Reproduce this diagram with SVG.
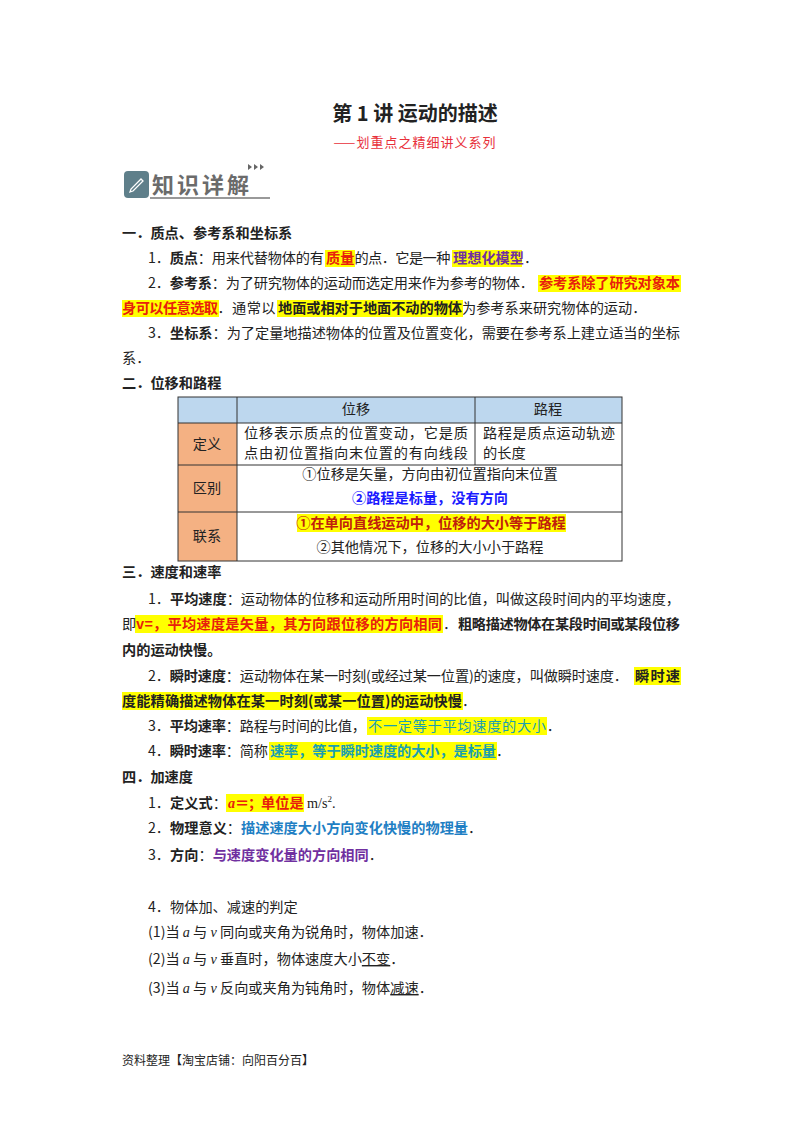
<svg xmlns="http://www.w3.org/2000/svg" width="800" height="1132" viewBox="0 0 800 1132">
<style>
text{font-family:"Noto Sans CJK SC","Liberation Serif",sans-serif;font-size:14.2px;fill:#222}
.b{font-weight:bold}
.r{fill:#e8200c;font-weight:bold}
.p{fill:#7030a0;font-weight:bold}
.bl{fill:#1a1aff;font-weight:bold}
.t{fill:#1aa0b0}
.u{fill:#1f7fc4;font-weight:bold}
.hl{fill:#ffff00}
.c{text-anchor:middle}
.cell{stroke:#333;stroke-width:1}
.i{font-style:italic;font-family:"Liberation Serif",serif}
</style>
<rect width="800" height="1132" fill="#fff"/>
<g id="header">
<text x="415" y="121" class="c b" style="font-size:20px">第 1 讲  运动的描述</text>
<text x="415" y="147" class="c" style="font-size:13px;fill:#e8303a;letter-spacing:1px">——划重点之精细讲义系列</text>
<rect x="124" y="171" width="25" height="27" rx="4" fill="#5f7f8a"/>
<path d="M130 192 l3 -1 l10 -10 l-2 -2 l-10 10 z" fill="none" stroke="#fff" stroke-width="1.3"/>
<text x="152" y="193" class="b" style="font-size:22px;fill:#6b6b6b;letter-spacing:3px">知识详解</text>
<line x1="150" y1="198" x2="270" y2="198" stroke="#777" stroke-width="1.5"/>
<path d="M248 164 l4 3 l-4 3 z M254 164 l4 3 l-4 3 z M260 164 l4 3 l-4 3 z" fill="#666"/>
</g>
<g id="sec1">
<text x="122" y="238" class="b">一．质点、参考系和坐标系</text>
<rect x="325" y="250" width="30" height="17" class="hl"/>
<rect x="452" y="250" width="70" height="17" class="hl"/>
<text x="148" y="263"><tspan textLength="176">1．<tspan class="b">质点</tspan>：用来代替物体的有</tspan><tspan x="326" class="r">质量</tspan><tspan textLength="96">的点．它是一种</tspan><tspan x="453" class="p">理想化模型</tspan>．</text>
<rect x="538" y="275" width="143" height="17" class="hl"/>
<text x="148" y="288"><tspan textLength="386">2．<tspan class="b">参考系</tspan>：为了研究物体的运动而选定用来作为参考的物体．</tspan><tspan x="539" class="r" textLength="141">参考系除了研究对象本</tspan></text>
<rect x="122" y="300" width="97" height="17" class="hl"/>
<rect x="277" y="300" width="186" height="17" class="hl"/>
<text x="122" y="313"><tspan class="r" textLength="96">身可以任意选取</tspan><tspan textLength="58">．通常以</tspan><tspan x="278" class="b" textLength="184">地面或相对于地面不动的物体</tspan>为参考系来研究物体的运动．</text>
<text x="148" y="338" textLength="532">3．<tspan class="b">坐标系</tspan>：为了定量地描述物体的位置及位置变化，需要在参考系上建立适当的坐标</text>
<text x="122" y="363">系．</text>
</g>
<g id="sec2">
<text x="122" y="388" class="b">二．位移和路程</text>
<rect x="178" y="397" width="444" height="26" fill="#bdd7ee"/>
<rect x="178" y="423" width="59" height="138" fill="#f4b183"/>
<rect x="297" y="514" width="269" height="18" class="hl"/>
<g class="cell" fill="none">
<rect x="178" y="397" width="444" height="164"/>
<line x1="237" y1="397" x2="237" y2="561"/>
<line x1="475" y1="397" x2="475" y2="465"/>
<line x1="178" y1="423" x2="622" y2="423"/>
<line x1="178" y1="465" x2="622" y2="465"/>
<line x1="178" y1="512" x2="622" y2="512"/>
</g>
<text x="356" y="414" class="c">位移</text>
<text x="548" y="414" class="c">路程</text>
<text x="207" y="449" class="c">定义</text>
<text x="244" y="438" textLength="224">位移表示质点的位置变动，它是质</text>
<text x="244" y="458" textLength="224">点由初位置指向末位置的有向线段</text>
<text x="483" y="438" textLength="132">路程是质点运动轨迹</text>
<text x="483" y="458">的长度</text>
<text x="207" y="493" class="c">区别</text>
<text x="430" y="479" class="c">①位移是矢量，方向由初位置指向末位置</text>
<text x="430" y="503" class="c bl">②路程是标量，没有方向</text>
<text x="207" y="541" class="c">联系</text>
<text x="431" y="528" class="c" style="fill:#c0200c;font-weight:bold">①在单向直线运动中，位移的大小等于路程</text>
<text x="430" y="552" class="c">②其他情况下，位移的大小小于路程</text>
</g>
<g id="sec3">
<text x="122" y="577" class="b">三．速度和速率</text>
<text x="148" y="604" textLength="532">1．<tspan class="b">平均速度</tspan>：运动物体的位移和运动所用时间的比值，叫做这段时间内的平均速度，</text>
<rect x="135" y="615" width="308" height="18" class="hl"/>
<text x="122" y="629">即<tspan x="136" class="r" textLength="306">v=，平均速度是矢量，其方向跟位移的方向相同</tspan><tspan x="443">．</tspan><tspan x="458" class="b" textLength="222">粗略描述物体在某段时间或某段位移</tspan></text>
<text x="122" y="655" class="b">内的运动快慢。</text>
<rect x="634" y="667" width="47" height="18" class="hl"/>
<text x="148" y="681" textLength="480">2．<tspan class="b">瞬时速度</tspan>：运动物体在某一时刻(或经过某一位置)的速度，叫做瞬时速度．</text>
<text x="635" y="681" class="b" textLength="45">瞬时速</text>
<rect x="122" y="692" width="341" height="18" class="hl"/>
<text x="122" y="706" class="b" textLength="340">度能精确描述物体在某一时刻(或某一位置)的运动快慢</text>
<text x="462" y="706">．</text>
<rect x="367" y="717" width="180" height="18" class="hl"/>
<text x="148" y="731"><tspan textLength="218">3．<tspan class="b">平均速率</tspan>：路程与时间的比值，</tspan><tspan x="368" class="t" textLength="178">不一定等于平均速度的大小</tspan>．</text>
<rect x="269" y="742" width="228" height="18" class="hl"/>
<text x="148" y="756"><tspan textLength="120">4．<tspan class="b">瞬时速率</tspan>：简称</tspan><tspan x="270" class="t b" textLength="226">速率，等于瞬时速度的大小，是标量</tspan>．</text>
</g>
<g id="sec4">
<text x="122" y="782" class="b">四．加速度</text>
<rect x="226" y="794" width="78" height="18" class="hl"/>
<text x="148" y="808">1．<tspan class="b">定义式</tspan>：</text>
<text x="228" y="808" class="r"><tspan class="i">a</tspan><tspan x="235">＝</tspan><tspan x="248">；</tspan><tspan x="261">单位是</tspan></text>
<text x="307" y="808" style="font-family:'Liberation Serif',serif">m/s<tspan dy="-6" style="font-size:9px">2</tspan><tspan dy="6">.</tspan></text>
<text x="148" y="833">2．<tspan class="b">物理意义</tspan>：<tspan class="u">描述速度大小方向变化快慢的物理量</tspan>．</text>
<text x="148" y="860">3．<tspan class="b">方向</tspan>：<tspan class="p">与速度变化量的方向相同</tspan>．</text>
<text x="148" y="912">4．物体加、减速的判定</text>
<text x="148" y="937">(1)当 <tspan class="i">a</tspan> 与 <tspan class="i">v</tspan> 同向或夹角为锐角时，物体加速．</text>
<text x="148" y="964">(2)当 <tspan class="i">a</tspan> 与 <tspan class="i">v</tspan> 垂直时，物体速度大小<tspan text-decoration="underline">不变</tspan>．</text>
<text x="148" y="993">(3)当 <tspan class="i">a</tspan> 与 <tspan class="i">v</tspan> 反向或夹角为钝角时，物体<tspan text-decoration="underline">减速</tspan>．</text>
</g>
<text x="122" y="1065" style="font-size:12px">资料整理【淘宝店铺：向阳百分百】</text>
</svg>
